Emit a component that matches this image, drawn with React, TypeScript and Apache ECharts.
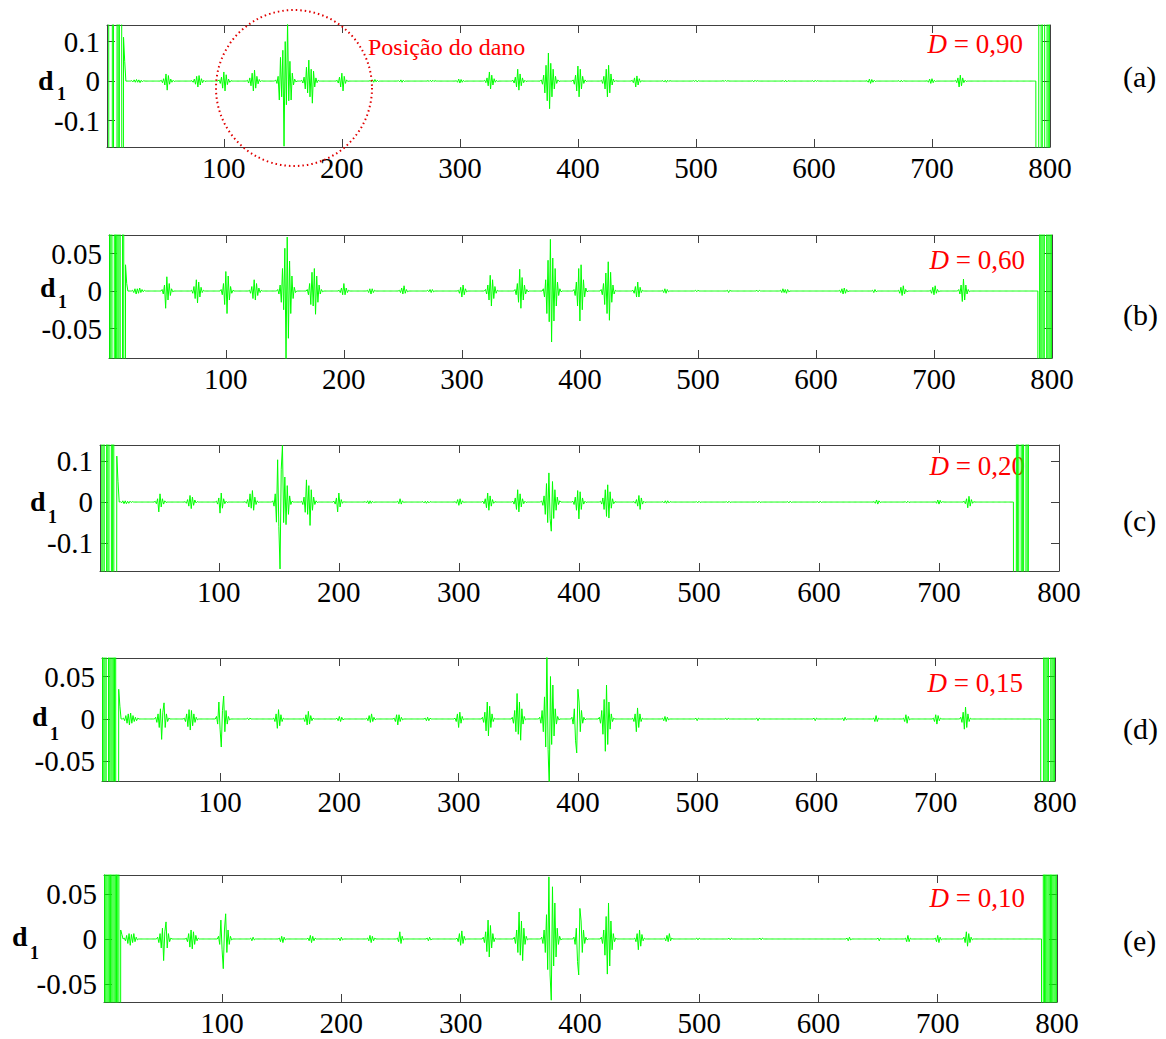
import React, { useEffect, useRef } from "react";
import * as echarts from "echarts";

// ---------- data ----------
const X_MIN = 1;
const X_MAX = 800;
const SIGNAL_LENGTH = [800, 800, 775, 800, 800];
const X_TICKS = [100, 200, 300, 400, 500, 600, 700, 800];
const PANEL_LABELS = ["(a)", "(b)", "(c)", "(d)", "(e)"];
const DAMAGE_VALUES = ["0,90", "0,60", "0,20", "0,15", "0,10"];
const Y_MIN = [-0.167, -0.0893, -0.168, -0.073, -0.07];
const Y_MAX = [0.142, 0.0747, 0.139, 0.0718, 0.0711];
const Y_TICKS = [
  [-0.1, 0, 0.1],
  [-0.05, 0, 0.05],
  [-0.1, 0, 0.1],
  [-0.05, 0, 0.05],
  [-0.05, 0, 0.05],
];

// d1 coefficients, values in units of 1e-3; each burst = [first index, samples...]
const BURSTS_A: [number, number[]][] = [
  [22, [1, -2, 3, -3, 4, -3, 3, -4, 2, -2, 1]],
  [47, [2, -4, 6, -10, 18, -23, 14, -8, 5, -3, 2, -1]],
  [73, [1, -3, 5, -8, 12, -15, 14, -10, 6, -4, 2, -1]],
  [96, [3, -6, 10, -18, 23, -25, 16, -9, 5, -3, 1]],
  [120, [2, -5, 8, -12, 20, -25, 28, -18, 12, -7, 4, -2, 1]],
  [144, [3, -6, 12, -48, 60, -40, 78, -165, 100, -60, 150, -50, 50, -48, 20, -10, 5, -2]],
  [166, [2, -5, 10, -20, 35, -30, 53, -40, 30, -56, 25, -15, 8, -4, 2]],
  [196, [2, -5, 10, -15, 20, -25, 12, -6, 3, -1]],
  [224, [1, -2, 3, -3, 4, -2, 2, -1]],
  [248, [1, -2, 3, -3, 2, -1]],
  [273, [1, -1, 2, -2, 2, -1, 1]],
  [297, [1, -3, 5, -5, 4, -3, 2, -1]],
  [321, [2, -4, 8, -12, 23, -20, 15, -10, 6, -3, 2, -1]],
  [345, [2, -5, 10, -15, 30, -23, 18, -12, 8, -4, 2, -1]],
  [369, [3, -8, 15, -30, 40, -50, 71, -70, 45, -40, 30, -20, 12, -6, 3, -1]],
  [396, [3, -8, 15, -25, 38, -40, 30, -20, 12, -6, 3, -1]],
  [420, [2, -6, 12, -20, 30, -40, 40, -30, 18, -10, 5, -2, 1]],
  [446, [2, -4, 8, -15, 13, -10, 6, -3, 1]],
  [472, [1, -2, 2, -3, 2, -1, 1]],
  [498, [1, -1, 2, -2, 1]],
  [523, [1, -1, 2, -1, 1]],
  [548, [1, -2, 2, -1, 1]],
  [574, [1, -2, 2, -2, 1]],
  [599, [1, -2, 2, -1, 1]],
  [645, [1, -3, 5, -6, 4, -3, 2, -1]],
  [672, [1, -2, 2, -2, 1]],
  [696, [1, -3, 5, -6, 6, -4, 2, -1]],
  [720, [2, -4, 8, -15, 15, -12, 8, -4, 2, -1]],
];
const BURSTS_B: [number, number[]][] = [
  [21, [1, -2, 3, -4, 3, -3, 4, -2, 2, -1, 1]],
  [46, [2, -4, 8, -23, 19, -12, 10, -6, 3, -1]],
  [71, [1, -3, 6, -10, 15, -16, 12, -8, 5, -2, 1]],
  [96, [2, -5, 10, -18, 26, -30, 20, -12, 6, -3, 1]],
  [120, [1, -3, 6, -10, 15, -12, 10, -6, 4, -2, 1]],
  [144, [2, -4, 8, -15, 30, -25, 57, -95, 72, -63, 40, -30, 20, -10, 5, -2]],
  [169, [2, -5, 10, -18, 25, -20, 30, -31, 20, -15, 8, -4, 2, -1]],
  [196, [1, -2, 4, -5, 10, -5, 4, -2, 1]],
  [220, [1, -2, 3, -4, 3, -2, 1]],
  [247, [1, -2, 4, -4, 7, -3, 2, -1]],
  [271, [1, -1, 2, -2, 2, -1]],
  [297, [1, -3, 5, -8, 8, -5, 3, -1]],
  [320, [2, -4, 8, -12, 21, -20, 15, -10, 6, -3, 1]],
  [345, [2, -5, 10, -15, 29, -23, 18, -12, 8, -4, 2, -1]],
  [369, [3, -8, 15, -30, 41, -41, 69, -68, 44, -40, 30, -20, 12, -6, 3, -1]],
  [395, [2, -6, 12, -20, 30, -40, 35, -25, 15, -8, 4, -1]],
  [418, [2, -5, 10, -18, 24, -30, 39, -39, 25, -15, 8, -4, 1]],
  [445, [1, -3, 6, -8, 12, -8, 5, -2, 1]],
  [470, [1, -2, 3, -3, 2, -1]],
  [498, [1, -1, 1]],
  [525, [1, -2, 1]],
  [550, [1, -1, 1]],
  [570, [1, -2, 3, -2, 2, -3, 2, -1]],
  [620, [1, -2, 3, -4, 4, -3, 2, -1]],
  [648, [1, -2, 2, -1]],
  [670, [1, -3, 5, -6, 7, -4, 2, -1]],
  [697, [1, -3, 5, -5, 7, -3, 2, -1]],
  [721, [2, -4, 8, -14, 16, -12, 8, -4, 2, -1]],
];
const BURSTS_C: [number, number[]][] = [
  [18, [1, -2, 3, -4, 3, -4, 2, -3, 2, -1, 1]],
  [47, [2, -4, 8, -24, 20, -12, 8, -5, 3, -1]],
  [72, [1, -3, 6, -10, 16, -16, 12, -8, 5, -2, 1]],
  [98, [2, -5, 10, -27, 22, -15, 8, -4, 2, -1]],
  [122, [1, -3, 6, -12, 20, -15, 28, -20, 12, -6, 3, -1]],
  [145, [3, -10, 20, -49, 103, -60, -163, 80, 138, -50, 61, -55, 40, -30, 15, -6, 2]],
  [169, [2, -6, 12, -25, 54, -30, 40, -57, 30, -20, 12, -6, 3, -1]],
  [196, [2, -5, 10, -24, 22, -12, 6, -3, 1]],
  [222, [1, -2, 3, -4, 3, -3, 2, -1]],
  [249, [2, -4, 8, -5, 3, -1]],
  [270, [1, -2, 2, -3, 2, -2, 1]],
  [297, [1, -3, 6, -8, 8, -5, 3, -1]],
  [320, [2, -4, 8, -14, 22, -20, 15, -10, 6, -3, 1]],
  [345, [2, -5, 10, -18, 30, -24, 20, -12, 8, -4, 2, -1]],
  [369, [3, -8, 15, -30, 45, -50, 71, -40, -71, 50, -40, 30, -20, 12, -6, 3]],
  [395, [2, -6, 12, -20, 28, -41, 25, -18, 10, -5, 2, -1]],
  [418, [2, -5, 10, -18, 30, -35, 42, -39, 25, -15, 8, -4, 1]],
  [446, [1, -3, 6, -10, 16, -18, 10, -5, 2, -1]],
  [470, [1, -2, 3, -3, 3, -2, 1]],
  [498, [1, -2, 2, -1]],
  [523, [1, -2, 2, -1]],
  [548, [1, -2, 2, -1]],
  [574, [1, -2, 2, -1]],
  [599, [1, -2, 2, -1]],
  [646, [1, -3, 5, -5, 3, -1]],
  [672, [1, -2, 2, -1]],
  [697, [1, -3, 5, -5, 4, -2, 1]],
  [721, [2, -4, 8, -14, 14, -10, 6, -3, 1]],
];
const BURSTS_D: [number, number[]][] = [
  [19, [1, -2, 4, -5, 6, -7, 7, -5, 4, -3, 2, -2, 1]],
  [46, [2, -4, 6, -10, 12, -24, 8, 19, -10, 6, -3, 1]],
  [70, [1, -3, 6, -9, 11, -13, 10, -8, 6, -4, 2, -1]],
  [97, [3, -6, 20, -12, -33, 10, 27, -15, 10, -6, 3, -1]],
  [123, [1, -1, 1]],
  [145, [1, -3, 6, -11, 11, -8, 5, -3, 1]],
  [170, [1, -3, 5, -7, 9, -6, 4, -2, 1]],
  [198, [1, -2, 3, -3, 2, -1]],
  [223, [1, -2, 4, -4, 6, -3, 2, -1]],
  [246, [1, -3, 5, -7, 5, -3, 2, -1]],
  [272, [1, -2, 2, -2, 1]],
  [297, [1, -3, 6, -10, 8, -5, 3, -1]],
  [320, [2, -4, 8, -14, 20, -20, 15, -10, 6, -3, 1]],
  [345, [2, -5, 10, -15, 30, -18, 20, -25, 12, -6, 3, -1]],
  [368, [2, -5, 10, -15, 26, -33, 80, -36, -80, 50, -30, 40, -20, 12, -6, 3, -1]],
  [395, [2, -6, 12, -25, -40, 35, 20, -15, 10, -5, 2, -1]],
  [418, [2, -5, 10, -18, 23, -38, 40, -30, 20, -12, 6, -3, 1]],
  [446, [1, -3, 6, -15, 13, -10, 6, -3, 1]],
  [471, [1, -2, 3, -3, 2, -1]],
  [499, [1, -2, 1]],
  [524, [1, -1, 1]],
  [550, [1, -2, 1]],
  [598, [1, -2, 1]],
  [622, [1, -2, 2, -1]],
  [648, [1, -3, 4, -3, 1]],
  [673, [1, -3, 5, -5, 3, -1]],
  [698, [1, -3, 5, -6, 4, -2, 1]],
  [721, [2, -4, 8, -12, 14, -10, 6, -3, 1]],
];
const BURSTS_E: [number, number[]][] = [
  [18, [1, -2, 4, -5, 6, -7, 5, -4, 6, -3, 2, -1]],
  [46, [2, -4, 6, -10, 12, -24, 8, 19, -10, 6, -3, 1]],
  [70, [1, -3, 6, -9, 10, -11, 8, -6, 4, -2, 1]],
  [97, [3, -6, 21, -12, -33, 10, 28, -15, 10, -6, 3, -1]],
  [124, [1, -2, 2, -1]],
  [148, [1, -3, 3, -4, 2, -1]],
  [172, [1, -2, 4, -4, 3, -2, 1]],
  [198, [1, -2, 2, -1]],
  [222, [1, -2, 4, -4, 3, -2, 1]],
  [247, [1, -3, 8, -5, 3, -1]],
  [272, [1, -2, 2, -1]],
  [297, [1, -3, 6, -7, 9, -5, 3, -1]],
  [319, [2, -4, 8, -14, 21, -20, 15, -10, 6, -3, 1]],
  [345, [2, -5, 10, -15, 30, -18, 20, -24, 12, -6, 3, -1]],
  [368, [2, -5, 10, -15, 27, -34, 69, -40, -68, 58, -30, 40, -20, 12, -6, 3, -1]],
  [395, [2, -6, 12, -25, -40, 34, 20, -15, 10, -5, 2, -1]],
  [418, [2, -5, 10, -18, 25, -39, 40, -30, 20, -12, 6, -3, 1]],
  [446, [1, -3, 6, -12, 10, -8, 5, -2, 1]],
  [471, [1, -2, 4, -3, 6, -2, 1]],
  [498, [1, -1, 1]],
  [525, [1, -1, 1]],
  [551, [1, -1, 1]],
  [624, [1, -2, 2, -1]],
  [650, [1, -2, 1]],
  [673, [1, -3, 4, -3, 1]],
  [698, [1, -3, 4, -4, 2, -1]],
  [722, [2, -4, 8, -8, 6, -4, 2, -1]],
];

// boundary effects (values far outside the axis range), units of 1e-3
const EDGE_LEFT_A = [3000, 2800, -3000, -2600, -2900, 3000, -3000, -2700, -2900, 3000, -3000, 3000, 2800, -3000, 111, 50];
const EDGE_LEFT_B = [3000, -3000, 3000, -2800, -2900, 3000, -3000, 3000, -2700, 3000, -3000, -2800, 3000, -3000, 35, 10];
const EDGE_LEFT_C = [3000, 2800, -3000, 3000, -2800, -3000, 3000, -3000, 3000, 2800, -3000, 3000, -2800, -3000, 112, 50];
const EDGE_LEFT_D = [3000, -3000, 2800, -3000, 3000, 3000, -3000, 3000, -2800, 3000, -3000, 3000, -3000, -2800, 35, 15];
const EDGE_LEFT_E = [3000, -3000, 3000, -3000, 3000, -3000, 3000, -3000, 3000, -3000, 3000, -3000, 3000, -3000, 10, 5];
const EDGE_RIGHT_START = [789, 789, 763, 789, 788];
const EDGE_RIGHT_A = [-3000, -2800, 3000, 2700, -3000, 3000, 2800, -3000, -2700, 3000, -3000, 3000];
const EDGE_RIGHT_B = [-3000, 3000, -2800, 3000, -3000, 3000, 2800, -3000, 3000, -3000, 3000, -3000];
const EDGE_RIGHT_C = [-3000, -2800, 3000, -3000, 3000, 2800, -3000, 3000, -3000, -2800, 3000, -3000, 3000];
const EDGE_RIGHT_D = [-3000, -2800, 3000, -3000, 3000, -3000, 3000, 2800, -3000, 3000, -3000, 3000];
const EDGE_RIGHT_E = [-3000, 3000, -3000, 3000, -3000, 3000, -3000, 3000, -3000, 3000, -3000, 3000, -3000];

const PANEL_BURSTS = [BURSTS_A, BURSTS_B, BURSTS_C, BURSTS_D, BURSTS_E];
const PANEL_LEFT = [EDGE_LEFT_A, EDGE_LEFT_B, EDGE_LEFT_C, EDGE_LEFT_D, EDGE_LEFT_E];
const PANEL_RIGHT = [EDGE_RIGHT_A, EDGE_RIGHT_B, EDGE_RIGHT_C, EDGE_RIGHT_D, EDGE_RIGHT_E];

// ---------- layout (pixels) ----------
const GRIDS = [
  { left: 107, top: 25, width: 943, height: 122 },
  { left: 109, top: 235, width: 943, height: 123 },
  { left: 100, top: 445, width: 959, height: 126 },
  { left: 102, top: 658, width: 953, height: 123 },
  { left: 104, top: 875, width: 953, height: 127 },
];
const D_LABEL_POS = [
  [38, 80, 57, 94],
  [40, 287, 58, 302],
  [30, 501, 48, 517],
  [32, 716, 50, 734],
  [12, 936, 30, 953],
];
const PANEL_LABEL_Y = [76, 314, 520, 728, 940];
const DAMAGE_POS = [
  [1023, 44],
  [1025, 260],
  [1025, 466],
  [1023, 683],
  [1025, 898],
];

const SERIF = "Liberation Serif";
const AXIS_COLOR = "#404040";
const TICK_FONT = 29;

function buildSignal(len: number, left: number[], bursts: [number, number[]][], rightStart: number, right: number[]) {
  const y: number[] = new Array(len).fill(0);
  left.forEach((v, i) => (y[i] = v));
  bursts.forEach(([s, vals]) =>
    vals.forEach((v, i) => {
      if (s - 1 + i < len) y[s - 1 + i] = v;
    })
  );
  right.forEach((v, i) => {
    if (rightStart - 1 + i < len) y[rightStart - 1 + i] = v;
  });
  return y.map((v, i) => [i + 1, v / 1000]);
}

function buildOption() {
  const grid: any[] = [];
  const xAxis: any[] = [];
  const yAxis: any[] = [];
  const series: any[] = [];
  const graphic: any[] = [];

  GRIDS.forEach((g, i) => {
    grid.push({ ...g, show: false, containLabel: false, outerBoundsMode: "none" });
    const xBase = {
      gridIndex: i,
      type: "value",
      min: X_MIN,
      max: X_MAX,
      splitLine: { show: false },
      axisLine: { show: true, onZero: false, lineStyle: { color: AXIS_COLOR, width: 1 } },
      axisTick: { show: true, inside: true, length: 8, customValues: X_TICKS, lineStyle: { color: AXIS_COLOR, width: 1 } },
    };
    xAxis.push({
      ...xBase,
      position: "bottom",
      axisLabel: {
        show: true,
        customValues: X_TICKS,
        fontFamily: SERIF,
        fontSize: TICK_FONT,
        lineHeight: 22,
        color: "#000",
        margin: 10,
      },
    });
    xAxis.push({ ...xBase, position: "top", axisLabel: { show: false } });
    const yBase = {
      gridIndex: i,
      type: "value",
      min: Y_MIN[i],
      max: Y_MAX[i],
      splitLine: { show: false },
      axisLine: { show: true, onZero: false, lineStyle: { color: AXIS_COLOR, width: 1 } },
      axisTick: { show: true, inside: true, length: 8, customValues: Y_TICKS[i], lineStyle: { color: AXIS_COLOR, width: 1 } },
    };
    yAxis.push({
      ...yBase,
      position: "left",
      axisLabel: {
        show: true,
        customValues: Y_TICKS[i],
        fontFamily: SERIF,
        fontSize: TICK_FONT,
        lineHeight: 20,
        color: "#000",
        margin: 7,
      },
    });
    yAxis.push({ ...yBase, position: "right", axisLabel: { show: false } });

    series.push({
      type: "line",
      xAxisIndex: 2 * i,
      yAxisIndex: 2 * i,
      data: buildSignal(SIGNAL_LENGTH[i], PANEL_LEFT[i], PANEL_BURSTS[i], EDGE_RIGHT_START[i], PANEL_RIGHT[i]),
      showSymbol: false,
      symbol: "none",
      clip: true,
      lineStyle: { color: "#00ff00", width: 1 },
      itemStyle: { color: "#00ff00" },
      silent: true,
    });

    const [dx, dy, sx, sy] = D_LABEL_POS[i];
    graphic.push({
      type: "text",
      x: dx,
      y: dy,
      style: {
        text: "d",
        fontFamily: SERIF,
        fontSize: 28,
        lineHeight: 20,
        fontWeight: "bold",
        fill: "#000",
        align: "left",
        verticalAlign: "middle",
      },
    });
    graphic.push({
      type: "text",
      x: sx,
      y: sy,
      style: {
        text: "1",
        fontFamily: SERIF,
        fontSize: 18,
        lineHeight: 12,
        fontWeight: "bold",
        fill: "#000",
        align: "left",
        verticalAlign: "middle",
      },
    });
    graphic.push({
      type: "text",
      x: 1123,
      y: PANEL_LABEL_Y[i],
      style: { text: PANEL_LABELS[i], fontFamily: SERIF, fontSize: 30, fill: "#000", align: "left", verticalAlign: "middle" },
    });
    const [rx, ry] = DAMAGE_POS[i];
    graphic.push({
      type: "text",
      x: rx,
      y: ry,
      style: {
        text: "{i|D} = " + DAMAGE_VALUES[i],
        fontFamily: SERIF,
        fontSize: 27,
        fill: "#ff0000",
        align: "right",
        verticalAlign: "middle",
        rich: {
          i: { fontFamily: SERIF, fontSize: 27, fontStyle: "italic", fill: "#ff0000" },
        },
      },
    });
  });

  graphic.push({
    type: "text",
    x: 368,
    y: 47,
    style: { text: "Posição do dano", fontFamily: SERIF, fontSize: 24, fill: "#ff0000", align: "left", verticalAlign: "middle" },
  });
  graphic.push({
    type: "circle",
    shape: { cx: 294, cy: 88, r: 78 },
    style: { fill: "none", stroke: "#e00000", lineWidth: 2, lineDash: [1.5, 3] },
    z: 100,
  });

  return {
    animation: false,
    backgroundColor: "#ffffff",
    grid,
    xAxis,
    yAxis,
    series,
    graphic,
  };
}

export default function App() {
  const ref = useRef<HTMLDivElement>(null);
  useEffect(() => {
    if (!ref.current) return;
    const chart = echarts.init(ref.current, undefined, { renderer: "svg" });
    chart.setOption(buildOption() as any);
    return () => chart.dispose();
  }, []);
  return (
    <div
      ref={ref}
      style={{ position: "absolute", left: 0, top: 0, width: 1166, height: 1039, background: "#fff" }}
    />
  );
}
